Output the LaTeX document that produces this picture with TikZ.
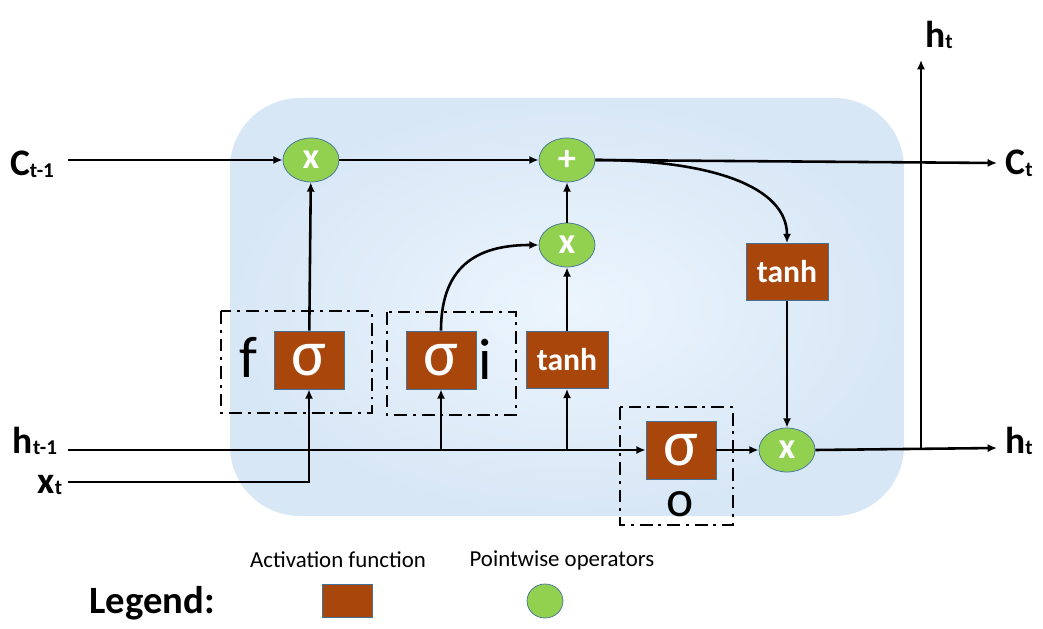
\documentclass[tikz,border=0pt]{standalone}
\usepackage{fontspec}
\setmainfont{Carlito}
\usetikzlibrary{arrows.meta,shapes.geometric}

\definecolor{cellblue}{RGB}{216,231,246}
\definecolor{cellglow}{RGB}{236,245,253}
\definecolor{actfill}{RGB}{168,70,12}
\definecolor{opfill}{RGB}{146,208,80}
\definecolor{edgeblue}{RGB}{65,113,156}

\newcommand*{\fsz}[1]{\fontsize{#1}{#1}\selectfont}
\newcommand*{\sublab}[2]{#1\raisebox{-0.1ex}{\fsz{18}#2}}

\tikzset{
  act/.style={draw=edgeblue, line width=0.6pt, fill=actfill, text=white,
    inner sep=0pt, minimum width=2.1cm, minimum height=1.74cm},
  sig/.style={act, font=\fsz{56}},
  tnh/.style={act, minimum width=2.46cm, minimum height=1.71cm, font=\bfseries\fsz{27}},
  op/.style={ellipse, draw=edgeblue, line width=0.6pt, fill=opfill, text=white,
    inner sep=0pt, minimum width=1.68cm, minimum height=1.32cm, font=\bfseries\fsz{31}},
  gatebox/.style={draw, line width=2.5pt, dash pattern=on 11pt off 5pt on 2.5pt off 5pt},
  lab/.style={font=\bfseries\fsz{32}},
  gatelab/.style={font=\fsz{50}, inner sep=0pt},
  flow/.style={line width=2.2pt, -{Latex[length=8pt,width=7pt]}}
}

\begin{document}
\begin{tikzpicture}[x=0.03cm, y=-0.03cm]
  \useasboundingbox (0,0) rectangle (1043,629);
  % the cell
  \shade[inner color=cellglow, outer color=cellblue, rounded corners=2.1cm]
    (230,98) rectangle (904,516);

  % gate frames
  \draw[gatebox] (221,311) rectangle (372,413);
  \draw[gatebox] (387,312) rectangle (516,415);
  \draw[gatebox] (620,407) rectangle (733,525);

  % pointwise operators
  \node[op] (fx) at (311,160) {x};
  \node[op] (plus) at (567,160) {+};
  \node[op] (ix) at (567,245) {x};
  \node[op] (ox) at (787,450) {x};

  % activations
  \node[sig] (fs) at (309,360) {σ};
  \node[sig] (is) at (441,360) {σ};
  \node[tnh] (ct) at (567,360) {tanh};
  \node[sig] (os) at (681,450) {σ};
  \node[tnh] (ht) at (787,272) {tanh};

  \node[gatelab] (fl) at (248,357) {f};
  \node[gatelab] (il) at (485,359) {i};
  \node[gatelab, font=\fsz{44}] (ol) at (680,504) {o};

  % inputs and outputs
  \node[lab] (cin) at (32,164) {\sublab{C}{t-1}};
  \node[lab] (hin) at (35,441) {\sublab{h}{t-1}};
  \node[lab] (xin) at (50,485) {\sublab{x}{t}};
  \node[lab] (cout) at (1019,163) {\sublab{C}{t}};
  \node[lab] (hout) at (1019,441) {\sublab{h}{t}};
  \node[lab] (hup) at (939,35) {\sublab{h}{t}};

  \coordinate (c0) at (68,160);
  \coordinate (h0) at (68,450);
  \coordinate (x0) at (68,482);
  \coordinate (c1) at (997,163);
  \coordinate (h1) at (997,448);
  \coordinate (hj) at (921,449);
  \coordinate (h2) at (921,60);

  % cell state
  \draw[flow] (c0) -- (fx.west);
  \draw[flow] (fx) -- (plus);
  \draw[flow] (plus.east) -- (c1);
  \draw[flow] (plus.east) .. controls +(120,0) and +(0,-55) .. (ht.north);

  % gates
  \draw[flow] (fs) -- (fx);
  \draw[flow] (is.north) .. controls +(0,-70) and +(-55,0) .. (ix.west);
  \draw[flow] (ct) -- (ix);
  \draw[flow] (ix) -- (plus);
  \draw[flow] (h0) -- (os.west);
  \draw[flow] (x0) -| (fs.south);
  \draw[flow] (is.south |- h0) -- (is.south);
  \draw[flow] (ct.south |- h0) -- (ct.south);
  \draw[flow] (os) -- (ox);
  \draw[flow] (ht) -- (ox);

  % hidden state out
  \draw[flow] (ox.east) -- (h1);
  \draw[flow] (hj) -- (h2);

  % legend
  \node[font=\bfseries\fsz{33}] (leg) at (152,603) {Legend:};
  \node[font=\fsz{19.5}] (acttxt) at (338,560) {Activation function};
  \node[font=\fsz{19.5}] (optxt) at (562,560) {Pointwise operators};
  \node[act, minimum width=1.5cm, minimum height=0.98cm] (actkey) at (347,601) {};
  \node[op, minimum width=1.08cm, minimum height=1.02cm] (opkey) at (545,601) {};
\end{tikzpicture}
\end{document}
